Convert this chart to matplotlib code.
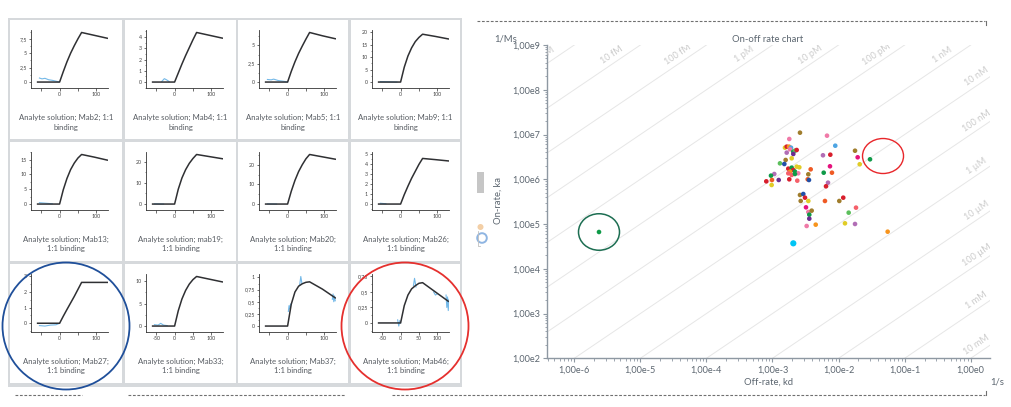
import numpy as np
import matplotlib
matplotlib.use("Agg")
import matplotlib.pyplot as plt
import matplotlib.transforms as mtransforms
from matplotlib.patches import Rectangle, Ellipse, Circle
from matplotlib.ticker import FixedLocator, FuncFormatter, AutoMinorLocator, NullFormatter

plt.rcParams['font.family'] = ['Lato', 'DejaVu Sans']

W, H = 1012, 407

# ---------------------------------------------------------------- sensorgrams
time_fit = [-60, 0, 10, 20, 30, 40, 50, 60, 95, 130]

analytes = ["Mab2", "Mab4", "Mab5", "Mab9",
            "Mab13", "mab19", "Mab20", "Mab26",
            "Mab27", "Mab33", "Mab37", "Mab46"]

resp_mab2 = [0, 0, 1.8, 3.5, 5.0, 6.3, 7.5, 8.6, 8.1, 7.6]
resp_mab4 = [0, 0, 0.8, 1.6, 2.35, 3.05, 3.75, 4.4, 4.15, 3.9]
resp_mab5 = [0, 0, 1.45, 2.75, 3.9, 4.9, 5.85, 6.75, 6.3, 5.9]
resp_mab9 = [0, 0, 6.0, 10.5, 13.8, 16.3, 18.0, 19.3, 18.4, 17.4]
resp_mab13 = [0, 0, 4.8, 8.6, 11.6, 13.8, 15.5, 16.7, 15.8, 14.8]
resp_mab19 = [0, 0, 7.0, 12.3, 16.2, 19.2, 21.5, 23.4, 22.4, 21.4]
resp_mab20 = [0, 0, 6.5, 12.0, 16.5, 20.0, 23.0, 25.2, 24.0, 22.8]
resp_mab26 = [0, 0, 0.95, 1.8, 2.6, 3.3, 4.0, 4.6, 4.48, 4.35]
resp_mab27 = [0, 0, 0.45, 0.88, 1.3, 1.72, 2.17, 2.62, 2.62, 2.62]
resp_mab33 = [0, 0, 3.4, 6.0, 7.9, 9.3, 10.3, 11.0, 10.4, 9.8]
resp_mab37 = [0, 0, 0.45, 0.7, 0.82, 0.87, 0.9, 0.91, 0.76, 0.58]
resp_mab46 = [0, 0, 0.28, 0.45, 0.55, 0.6, 0.64, 0.65, 0.5, 0.35]

# measured traces where they separate from the fitted curve (nan = gap)
nan = float("nan")
meas_t_mab2 = [-55, -48, -40, -30, -20, -10, -3]
meas_r_mab2 = [0.7, 0.55, 0.65, 0.4, 0.3, 0.15, 0.05]
meas_t_mab4 = [-35, -28, -22, -15]
meas_r_mab4 = [0.05, 0.3, 0.2, 0.05]
meas_t_mab5 = [-55, -45, -38, -25, -10, 0]
meas_r_mab5 = [0.35, 0.3, 0.4, 0.2, 0.1, 0.0]
meas_t_mab9 = [-55, -30, -10]
meas_r_mab9 = [0.2, 0.1, 0.0]
meas_t_mab13 = [-55, -40, -20]
meas_r_mab13 = [0.45, 0.3, 0.1]
meas_t_mab19 = [-55, -30]
meas_r_mab19 = [0.1, 0.0]
meas_t_mab20 = [-55, -30]
meas_r_mab20 = [0.1, 0.0]
meas_t_mab26 = [-55, -40]
meas_r_mab26 = [0.08, 0.03]
meas_t_mab27 = [-55, -40, -25, -10, 0]
meas_r_mab27 = [-0.15, -0.18, -0.12, -0.1, 0.0]
meas_t_mab33 = [-55, -45, -38, -30, -20]
meas_r_mab33 = [0.3, 0.2, 0.6, 0.2, 0.1]
meas_t_mab37 = [2, 4, 6, 8, nan, 33, 36, 39, nan, 122, 124, 126, 128, 130]
meas_r_mab37 = [0.3, 0.42, 0.35, 0.45, nan, 0.85, 1.02, 0.88, nan, 0.55, 0.66, 0.5, 0.62, 0.52]
meas_t_mab46 = [-8, -5, -2, 0, nan, 35, 38, 42, nan, 90, 95, 100, nan, 124, 126, 128, 130, 132]
meas_r_mab46 = [0.05, -0.05, 0.04, 0.0, nan, 0.6, 0.72, 0.58, nan, 0.5, 0.45, 0.47, nan, 0.45, 0.25, 0.42, 0.2, 0.38]

yticks_mab2 = [0, 2.5, 5, 7.5]
yticks_mab4 = [0, 1, 2, 3, 4]
yticks_mab5 = [0, 2.5, 5]
yticks_mab9 = [0, 5, 10, 15, 20]
yticks_mab13 = [0, 5, 10, 15]
yticks_mab19 = [0, 10, 20]
yticks_mab20 = [0, 10, 20]
yticks_mab26 = [0, 1, 2, 3, 4, 5]
yticks_mab27 = [0, 1, 2, 3]
yticks_mab33 = [0, 5, 10]
yticks_mab37 = [0, 0.25, 0.5, 0.75, 1]
yticks_mab46 = [0, 0.25, 0.5, 0.75]

xticks_time = [-50, 0, 50, 100]
xlabels_short = ["", "0", "", "100"]
xlabels_full = ["-50", "0", "50", "100"]

captions = [
    ("Analyte solution; Mab2; 1:1", "binding"),
    ("Analyte solution; Mab4; 1:1", "binding"),
    ("Analyte solution; Mab5; 1:1", "binding"),
    ("Analyte solution; Mab9; 1:1", "binding"),
    ("Analyte solution; Mab13;", "1:1 binding"),
    ("Analyte solution; mab19;", "1:1 binding"),
    ("Analyte solution; Mab20;", "1:1 binding"),
    ("Analyte solution; Mab26;", "1:1 binding"),
    ("Analyte solution; Mab27;", "1:1 binding"),
    ("Analyte solution; Mab33;", "1:1 binding"),
    ("Analyte solution; Mab37;", "1:1 binding"),
    ("Analyte solution; Mab46;", "1:1 binding"),
]

responses = [resp_mab2, resp_mab4, resp_mab5, resp_mab9, resp_mab13, resp_mab19,
             resp_mab20, resp_mab26, resp_mab27, resp_mab33, resp_mab37, resp_mab46]
meas_times = [meas_t_mab2, meas_t_mab4, meas_t_mab5, meas_t_mab9, meas_t_mab13,
              meas_t_mab19, meas_t_mab20, meas_t_mab26, meas_t_mab27, meas_t_mab33,
              meas_t_mab37, meas_t_mab46]
meas_resps = [meas_r_mab2, meas_r_mab4, meas_r_mab5, meas_r_mab9, meas_r_mab13,
              meas_r_mab19, meas_r_mab20, meas_r_mab26, meas_r_mab27, meas_r_mab33,
              meas_r_mab37, meas_r_mab46]
yticks_all = [yticks_mab2, yticks_mab4, yticks_mab5, yticks_mab9, yticks_mab13,
              yticks_mab19, yticks_mab20, yticks_mab26, yticks_mab27, yticks_mab33,
              yticks_mab37, yticks_mab46]
full_xlabels = {"Mab33", "Mab46"}

# ---------------------------------------------------------------- kinetics map
log_kd = [-2.584, -2.746, -2.175, -2.050, -1.751, -1.711, -1.524, -1.680, -2.236, -2.125,
          -2.130, -2.225, -2.100, -2.160, -2.190,
          -2.811, -2.785, -2.750, -2.720, -2.735, -2.685, -2.660, -2.634, -2.785, -2.685,
          -2.710, -2.801, -2.887, -2.821, -2.761, -2.710, -2.634, -2.594, -2.685, -2.735,
          -2.660, -2.761, -2.610, -2.710, -2.660, -2.746, -2.625, -2.467, -2.448, -2.458,
          -2.422, -2.973, -3.023, -3.008, -3.094, -3.013, -2.906,
          -2.584, -2.534, -2.508, -2.573, -2.458, -2.206, -1.989, -1.929,
          -2.493, -2.458, -2.407, -2.443, -2.443, -2.483, -2.346, -1.847, -1.736, -1.903,
          -1.751, -2.685, -1.257, -5.626]
log_ka = [7.041, 6.900, 6.974, 6.750, 6.638, 6.491, 6.446, 6.335, 6.536, 6.549,
          6.290, 6.147, 6.147, 5.924, 5.843,
          6.706, 6.729, 6.729, 6.706, 6.670, 6.617, 6.639, 6.654, 6.595, 6.565,
          6.468, 6.431, 6.356, 6.341, 6.237, 6.259, 6.282, 6.267, 6.207, 6.170,
          6.170, 6.133, 6.133, 6.096, 6.118, 5.999, 5.969, 5.999, 5.984, 6.111,
          6.222, 6.118, 6.081, 5.984, 5.954, 5.872, 5.984,
          5.649, 5.671, 5.589, 5.515, 5.515, 5.515, 5.515, 5.589,
          5.373, 5.269, 5.299, 5.209, 5.120, 4.956, 4.986, 5.254, 5.366, 5.016,
          5.001, 4.569, 4.829, 4.822]
point_group = ["olive", "pink", "pink", "lightblue", "olive", "magenta", "green", "yellow",
               "lightpurple", "red", "magenta", "green", "orangered", "lightpurple", "red",
               "yellow", "red", "orange", "lightblue", "pink", "green", "lightgreen", "red",
               "lightpurple", "purple", "yellow", "olive", "lightgreen", "blue", "red",
               "green", "yellow", "yellow", "red", "orange", "green", "salmon", "pink",
               "salmon", "green", "red", "salmon", "orangered", "blue", "olive",
               "orangered", "lightpurple", "green", "orangered", "red", "yellow", "purple",
               "olive", "blue", "red", "olive", "yellow", "orangered", "olive", "red",
               "magenta", "pink", "olive", "green", "purple", "pink", "orange",
               "lightgreen", "salmon", "yellow", "lightpurple", "cyan", "orange", "green"]

kd_constants = list(range(-15, -1))
kd_names = ["1 fM", "10 fM", "100 fM", "1 pM", "10 pM", "100 pM", "1 nM", "10 nM",
            "100 nM", "1 µM", "10 µM", "100 µM", "1 mM", "10 mM"]

palette = {
    "olive": "#a07d2c", "pink": "#f07aa8", "lightblue": "#4ea5e3", "magenta": "#e5127d",
    "green": "#0e9a48", "yellow": "#e0cc26", "lightpurple": "#b16db5", "red": "#d81e2c",
    "orangered": "#ef5a24", "orange": "#f7941d", "purple": "#6b2c91", "blue": "#2150a8",
    "lightgreen": "#5bbf5b", "cyan": "#00c5f5", "salmon": "#f5606a",
}

# ---------------------------------------------------------------- figure
fig = plt.figure(figsize=(W / 100, H / 100), dpi=100)


def fx(x):
    return x / W


def fy(y):
    return 1 - y / H


def rect(x0, y0, x1, y1):
    return [fx(x0), fy(y1), (x1 - x0) / W, (y1 - y0) / H]


bg = fig.add_axes([0, 0, 1, 1], zorder=-5)
bg.set_xlim(0, W)
bg.set_ylim(H, 0)
bg.axis("off")

fg = fig.add_axes([0, 0, 1, 1], zorder=20)
fg.set_xlim(0, W)
fg.set_ylim(H, 0)
fg.axis("off")
fg.patch.set_alpha(0)

# card grid
bg.add_patch(Rectangle((8, 18), 454, 369, color="#d6d9dc", lw=0))
card_x = [10, 125, 238, 351]
card_w = [112, 111, 110, 109]
card_y = [20, 142, 264]
card_h = 119
for r, y0 in enumerate(card_y):
    for c, x0 in enumerate(card_x):
        bg.add_patch(Rectangle((x0, y0), card_w[c], card_h, color="white", lw=0))


def tick_text(v):
    return ("%g" % v).replace(".", ",")


for i, name in enumerate(analytes):
    r, c = divmod(i, 4)
    x0, y0 = card_x[c], card_y[r]
    ax = fig.add_axes(rect(x0 + 21, y0 + 10, x0 + 98, y0 + 68))
    resp = responses[i]
    mt, mr = meas_times[i], meas_resps[i]
    yt = yticks_all[i]
    lo = min(0, np.nanmin(mr))
    hi = max(max(resp), np.nanmax(mr), max(yt))
    span = hi - lo
    ax.set_ylim(lo - 0.12 * span, hi + 0.05 * span)
    ax.set_xlim(-78, 132)
    ax.plot(mt, mr, color="#74b9e8", lw=0.8, zorder=2)
    ax.plot(time_fit, resp, color="#2f3033", lw=1.1, zorder=3)
    ax.spines[["top", "right"]].set_visible(False)
    for s in ("left", "bottom"):
        ax.spines[s].set_color("#333333")
        ax.spines[s].set_linewidth(0.6)
    ax.yaxis.set_major_locator(FixedLocator(yt))
    ax.yaxis.set_major_formatter(FuncFormatter(lambda v, p: tick_text(v)))
    ax.yaxis.set_minor_locator(AutoMinorLocator(2))
    ax.xaxis.set_major_locator(FixedLocator(xticks_time))
    ax.set_xticklabels(xlabels_full if name in full_xlabels else xlabels_short)
    ax.tick_params(axis="both", which="major", length=1.8, width=0.5, pad=1.2,
                   labelsize=3.8, colors="#333333", labelcolor="#444444")
    ax.tick_params(axis="y", which="minor", length=1.0, width=0.4, colors="#333333")
    ax.patch.set_alpha(0)
    line1, line2 = captions[i]
    cx = x0 + card_w[c] / 2
    fig.text(fx(cx), fy(y0 + 97), line1, ha="center", va="center", fontsize=5.6,
             color="#555a60")
    fig.text(fx(cx), fy(y0 + 107), line2, ha="center", va="center", fontsize=5.6,
             color="#555a60")

# highlight circles on the sensorgram grid
fg.add_patch(Circle((66, 326), 63.5, fill=False, ec="#1f4f9a", lw=1.3))
fg.add_patch(Circle((405, 326), 63.5, fill=False, ec="#e5302e", lw=1.3))

# dashed separators
dash = dict(color="#707070", lw=0.8, linestyle=(0, (2.5, 1.5)))
fg.plot([477, 985], [21, 21], **dash)
fg.plot([986, 986], [21, 25], color="#707070", lw=0.8)
for xa, xb in [(15, 82), (128, 345), (392, 985)]:
    fg.plot([xa, xb], [395, 395], **dash)
fg.plot([986, 986], [391, 395], color="#707070", lw=0.8)

# small panel controls next to the map
fg.add_patch(Rectangle((477, 172), 7, 21, color="#c6c6c6", lw=0))
fg.add_patch(Circle((480.5, 227), 3.0, color="#f3cfa6", lw=0))
fg.add_patch(Circle((482, 238), 4.8, fill=False, ec="#8fb5e2", lw=1.4))
fg.plot([478, 478, 480], [231, 246, 246], color="#c0c0c0", lw=0.6)

# ---------------------------------------------------------------- on-off rate map
x_left_dec, x_right_dec = -6.413, 0.292
ax = fig.add_axes(rect(547, 45, 990, 358.3))
ax.set_xscale("log")
ax.set_yscale("log")
ax.set_xlim(10 ** x_left_dec, 10 ** x_right_dec)
ax.set_ylim(1e2, 1e9)
ax.spines[["top", "right"]].set_visible(False)
for s in ("left", "bottom"):
    ax.spines[s].set_color("#8e98a2")
    ax.spines[s].set_linewidth(1.0)
ax.xaxis.set_major_locator(FixedLocator([10.0 ** e for e in range(-6, 1)]))
ax.yaxis.set_major_locator(FixedLocator([10.0 ** e for e in range(2, 10)]))
fmt = FuncFormatter(lambda v, p: "1,00e%d" % int(round(np.log10(v))))
ax.xaxis.set_major_formatter(fmt)
ax.yaxis.set_major_formatter(fmt)
ax.xaxis.set_minor_formatter(NullFormatter())
ax.yaxis.set_minor_formatter(NullFormatter())
ax.tick_params(which="major", length=3, width=0.8, colors="#8e98a2",
               labelcolor="#5c6670", labelsize=6.6, pad=2)
ax.tick_params(which="minor", length=1.8, width=0.6, colors="#8e98a2")

# iso-affinity diagonals KD = kd / ka
kd_span = np.array([10.0 ** (x_left_dec - 1), 10.0 ** (x_right_dec + 1)])
for e in kd_constants:
    ax.plot(kd_span, kd_span / 10.0 ** e, color="#e6e6e6", lw=0.7, zorder=0)

p1 = ax.transData.transform((1e-5, 1e4))
p2 = ax.transData.transform((1e-4, 1e5))
angle = np.degrees(np.arctan2(p2[1] - p1[1], p2[0] - p1[0]))
for e, lab in zip(kd_constants, kd_names):
    top_end = e + 9
    if top_end <= x_right_dec - 0.13:
        lx = top_end - 0.36
    else:
        lx = x_right_dec - 0.13
    ly = lx - e
    ax.annotate(lab, xy=(10 ** lx, 10 ** ly), xytext=(-3.3, 4.6),
                textcoords="offset points", rotation=angle, rotation_mode="anchor",
                ha="center", va="center", fontsize=6.6, color="#cbcbcb",
                clip_on=True, annotation_clip=False)

ax.scatter(10.0 ** np.array(log_kd), 10.0 ** np.array(log_ka),
           s=[20 if g == "cyan" else 11 for g in point_group],
           c=[palette[g] for g in point_group], edgecolors="none", zorder=3)

# highlight rings around the isolated antibodies
green_pt = (10 ** log_kd[-1], 10 ** log_ka[-1])
tr = fig.dpi_scale_trans + mtransforms.ScaledTranslation(*green_pt, ax.transData)
ax.add_patch(Ellipse((0, 0), 0.41, 0.365, transform=tr, fill=False, ec="#1d6e52",
                     lw=1.1, clip_on=False))
red_pt = (10 ** log_kd[6], 10 ** log_ka[6])
tr = fig.dpi_scale_trans + mtransforms.ScaledTranslation(*red_pt, ax.transData)
ax.add_patch(Ellipse((0.13, 0.033), 0.41, 0.35, transform=tr, fill=False, ec="#e8262a",
                     lw=1.0, clip_on=False))

txt = dict(color="#5c6670", fontsize=6.8)
fig.text(fx(768), fy(39), "On-off rate chart", ha="center", va="center", **txt)
fig.text(fx(506), fy(39), "1/Ms", ha="center", va="center", **txt)
fig.text(fx(769), fy(382), "Off-rate, kd", ha="center", va="center", **txt)
fig.text(fx(997), fy(382), "1/s", ha="center", va="center", **txt)
fig.text(fx(498), fy(201), "On-rate, ka", ha="center", va="center", rotation=90, **txt)

fig.savefig("out.png", dpi=100)
